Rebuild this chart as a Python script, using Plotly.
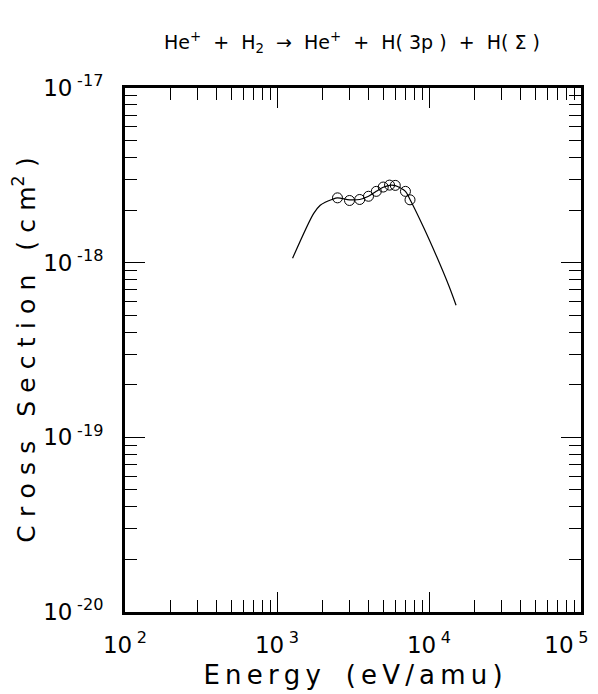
import plotly.graph_objects as go

# Fit curve (energy in eV/amu, cross section in cm^2)
fit_energy = [1266, 1740, 1925, 2075, 2297, 2500, 3000, 3500, 4000, 4500, 5000, 5500, 6000, 7000, 7500, 9190, 11250, 13550, 15070]
fit_sigma = [1.06e-18, 1.91e-18, 2.13e-18, 2.22e-18, 2.30e-18, 2.35e-18, 2.29e-18, 2.30e-18, 2.40e-18, 2.56e-18,
             2.70e-18, 2.77e-18, 2.76e-18, 2.56e-18, 2.30e-18, 1.60e-18, 1.08e-18, 7.32e-19, 5.7e-19]

# Measured points
data_energy = [2500, 3000, 3500, 4000, 4500, 5000, 5500, 6000, 7000, 7500]
data_sigma = [2.35e-18, 2.27e-18, 2.30e-18, 2.40e-18, 2.56e-18, 2.71e-18, 2.78e-18, 2.77e-18, 2.56e-18, 2.29e-18]

TS = "\u2009"   # thin space
TPS = "\u2004"  # three-per-em space
FS = "\u2007"   # figure space (keeps the last label inside the page)
x_major = [1e2, 1e3, 1e4, 1e5]
x_major_text = ["10" + TS + "<sup>2</sup>", "10" + TS + "<sup>3</sup>",
                "10" + TS + "<sup>4</sup>", "10" + TS + "<sup>5</sup>" + FS + FS]
y_major = [1e-20, 1e-19, 1e-18, 1e-17]
y_major_text = ["10" + TS + "<sup>-20</sup>", "10" + TS + "<sup>-19</sup>",
                "10" + TS + "<sup>-18</sup>", "10" + TS + "<sup>-17</sup>"]

x_minor = [m * 10 ** e for e in range(2, 5) for m in range(2, 10)]
y_minor = [m * 10.0 ** e for e in range(-20, -17) for m in range(2, 10)]


def spaced(s, sep):
    return sep.join(list(s))


x_title = spaced("Energy", TS) + "   " + spaced("(eV/amu)", TS)
y_title = (spaced("Cross", TPS) + "   " + spaced("Section", TPS) + "   "
           + "(" + TPS + "c" + TPS + "m<sup>2</sup>" + TPS + ")")

FONT = "DejaVu Sans"

fig = go.Figure()
fig.add_trace(go.Scatter(x=fit_energy, y=fit_sigma, mode="lines",
                         line=dict(color="black", width=1.2, shape="spline", smoothing=0.8),
                         showlegend=False, hoverinfo="skip"))
fig.add_trace(go.Scatter(x=data_energy, y=data_sigma, mode="markers",
                         marker=dict(symbol="circle-open", size=10, color="black", line=dict(width=1)),
                         showlegend=False))

axis_common = dict(showgrid=False, zeroline=False, showline=True, linecolor="black", linewidth=3,
                   mirror="ticks", ticks="inside", ticklen=20, tickwidth=1.2, tickcolor="black",
                   automargin=False, ticklabeloverflow="allow",
                   tickfont=dict(family=FONT, size=23, color="black"))

fig.update_xaxes(type="log", range=[2, 5], tickmode="array", tickvals=x_major, ticktext=x_major_text,
                 minor=dict(tickmode="array", tickvals=x_minor, ticks="inside", ticklen=12, tickwidth=1.2, tickcolor="black"),
                 title=dict(text=x_title, font=dict(family=FONT, size=26, color="black"), standoff=10),
                 ticklabelstandoff=10, **axis_common)
fig.update_yaxes(type="log", range=[-20, -17], tickmode="array", tickvals=y_major, ticktext=y_major_text,
                 minor=dict(tickmode="array", tickvals=y_minor, ticks="inside", ticklen=12, tickwidth=1.2, tickcolor="black"),
                 title=dict(text=y_title, font=dict(family=FONT, size=25, color="black"), standoff=18),
                 ticklabelstandoff=14, **axis_common)

# the page body adds an 8 px offset; the figure is shifted to compensate
fig.update_layout(
    width=590, height=686,
    margin=dict(l=117, r=17, t=80, b=82),
    paper_bgcolor="white", plot_bgcolor="white",
    title=dict(text="He<sup>+</sup>  +  H<sub>2</sub>  →  He<sup>+</sup>  +  H( 3p )  +  H( Σ )",
               x=0.583, xanchor="center", y=0.95, yanchor="middle",
               font=dict(family=FONT, size=19, color="black")),
)

fig.write_html("out.html")
